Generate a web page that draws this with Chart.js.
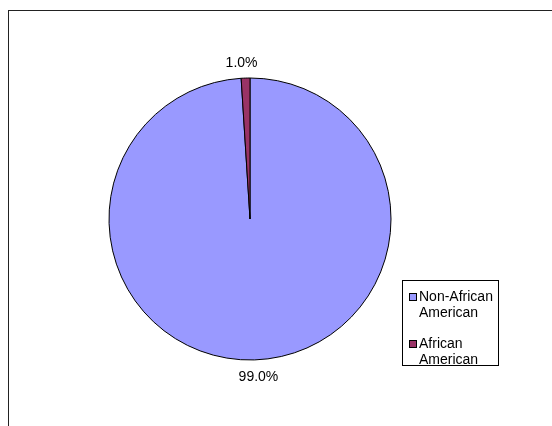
<!DOCTYPE html>
<html lang="en">
<head>
    <meta charset="UTF-8">
    <title>Pie</title>
    <script src="https://cdn.jsdelivr.net/npm/chart.js"></script>
    <style>
        html, body {
            margin: 0;
            padding: 0;
            width: 552px;
            height: 426px;
            overflow: hidden;
            background: #ffffff;
            font-family: "Liberation Sans", Arial, sans-serif;
        }
        #frame {
            position: absolute;
            left: 8px;
            top: 10px;
            width: 700px;
            height: 600px;
            border-left: 1px solid #222;
            border-top: 1px solid #222;
        }
        #wrap {
            position: absolute;
            left: 0;
            top: 0;
            width: 552px;
            height: 426px;
        }
        #legend {
            position: absolute;
            left: 402px;
            top: 280px;
            width: 95px;
            height: 84px;
            border: 1px solid #000;
            background: #fff;
        }
        .item {
            position: absolute;
            left: 16px;
            width: 80px;
            font-size: 14px;
            line-height: 15.5px;
            color: #000;
        }
        .box {
            position: absolute;
            left: 6px;
            width: 6px;
            height: 6px;
            border: 1px solid #000;
        }
    </style>
</head>
<body>
    <div id="frame"></div>
    <div id="wrap"><canvas id="pie" width="552" height="426"></canvas></div>
    <div id="legend"></div>

    <script>
        // datos
        const labels = ['Non-African American', 'African American'];
        const values = [99.0, 1.0];
        const colors = ['#9999FF', '#993366'];

        // etiquetas de porcentaje fuera del pastel
        const outLabels = {
            id: 'outLabels',
            afterDatasetsDraw(chart) {
                const ctx = chart.ctx;
                const meta = chart.getDatasetMeta(0);
                const total = values.reduce((a, b) => a + b, 0);
                ctx.save();
                ctx.font = '14px "Liberation Sans", Arial, sans-serif';
                ctx.fillStyle = '#000';
                ctx.textAlign = 'center';
                ctx.textBaseline = 'alphabetic';
                meta.data.forEach((arc, i) => {
                    const p = arc.getProps(['x', 'y', 'startAngle', 'endAngle', 'outerRadius'], true);
                    const mid = (p.startAngle + p.endAngle) / 2;
                    const R = p.outerRadius + 16.5;
                    const c = Math.cos(mid);
                    const x = p.x + c * R + Math.sign(c) * 3.5;
                    const y = p.y + Math.sin(mid) * R + 5;
                    const txt = (values[i] / total * 100).toFixed(1) + '%';
                    ctx.fillText(txt, x, y);
                });
                ctx.restore();
            }
        };

        const chart = new Chart(document.getElementById('pie'), {
            type: 'pie',
            data: {
                labels: labels,
                datasets: [{
                    data: values,
                    backgroundColor: colors,
                    borderColor: '#000',
                    borderWidth: 1,
                    hoverOffset: 0
                }]
            },
            options: {
                responsive: false,
                animation: false,
                radius: 141,
                layout: {
                    padding: { left: 100, right: 152, top: 70, bottom: 58 }
                },
                plugins: {
                    legend: { display: false },
                    tooltip: { enabled: false }
                }
            },
            plugins: [outLabels]
        });

        // leyenda en HTML
        const legend = document.getElementById('legend');
        const tops = [8, 55];
        labels.forEach((lab, i) => {
            const sq = document.createElement('div');
            sq.className = 'box';
            sq.style.top = (tops[i] + 4) + 'px';
            sq.style.background = colors[i];
            legend.appendChild(sq);
            const it = document.createElement('div');
            it.className = 'item';
            it.style.top = tops[i] + 'px';
            it.textContent = lab;
            legend.appendChild(it);
        });
    </script>
</body>
</html>
